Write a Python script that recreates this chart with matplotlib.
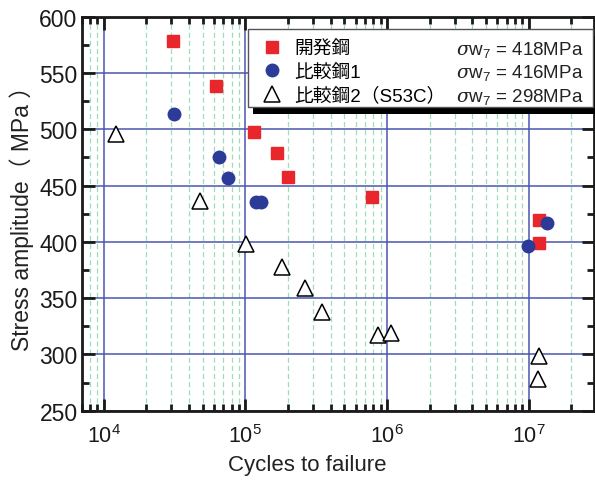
import matplotlib
matplotlib.use('Agg')
import matplotlib.pyplot as plt
from matplotlib.patches import Rectangle
from matplotlib.ticker import LogLocator, MultipleLocator, NullFormatter

plt.rcParams['font.family'] = ['Liberation Sans', 'Noto Sans CJK JP', 'DejaVu Sans']
plt.rcParams['mathtext.fontset'] = 'custom'
plt.rcParams['mathtext.rm'] = 'Liberation Sans'
plt.rcParams['mathtext.it'] = 'DejaVu Serif:italic'

# data
dev_cycles = [3.1e4, 6.2e4, 1.15e5, 1.67e5, 2.0e5, 7.8e5, 1.18e7, 1.18e7]
dev_stress = [578, 538, 498, 479, 458, 440, 419, 399]

cmp1_cycles = [3.15e4, 6.5e4, 7.6e4, 1.19e5, 1.29e5, 9.8e6, 1.34e7]
cmp1_stress = [514, 475, 457, 435.5, 435.5, 396, 417]

cmp2_cycles = [1.23e4, 4.77e4, 1.01e5, 1.8e5, 2.65e5, 3.46e5, 8.7e5, 1.06e6, 1.19e7, 1.16e7]
cmp2_stress = [496, 436.5, 398, 378, 358.6, 337.3, 317.4, 318.6, 299, 278.4]

labels = ['開発鋼', '比較鋼1', '比較鋼2（S53C）']
limits = ['418MPa', '416MPa', '298MPa']

red = '#e8262c'
blue = '#2b3b97'
W, H = 595, 481

fig = plt.figure(figsize=(W / 100, H / 100), dpi=100)
ax = fig.add_axes([0.1373, 0.1441, 0.9988 - 0.1373, 0.9632 - 0.1441])

ax.set_xscale('log')
ax.set_xlim(7e3, 2.9e7)
ax.set_ylim(250, 600)

# grid
ax.xaxis.set_major_locator(LogLocator(base=10, numticks=10))
ax.xaxis.set_minor_locator(LogLocator(base=10, subs=range(2, 10), numticks=20))
ax.xaxis.set_minor_formatter(NullFormatter())
ax.yaxis.set_major_locator(MultipleLocator(50))
ax.yaxis.set_minor_locator(MultipleLocator(25))
ax.grid(which='major', axis='both', color='#4a55b0', lw=1.1, ls='-')
ax.grid(which='minor', axis='x', color='#9fdcb8', lw=0.9, ls=(0, (4, 2.5)))
ax.set_axisbelow(True)

h1, = ax.plot(dev_cycles, dev_stress, 's', color=red, ms=8.2, mec=red, zorder=3)
h2, = ax.plot(cmp1_cycles, cmp1_stress, 'o', color=blue, ms=9, mec=blue, zorder=3)
h3, = ax.plot(cmp2_cycles, cmp2_stress, '^', mfc='white', mec='black', ms=12, mew=1.1, zorder=3)

ax.tick_params(which='both', direction='in', top=True, right=True, width=2, colors='#1a1a1a')
ax.tick_params(which='major', length=9, labelsize=16.5)
ax.tick_params(which='minor', length=5)
ax.tick_params(axis='x', which='major', pad=10, labelsize=15.5)
ax.tick_params(axis='y', which='major', pad=3)
for s in ax.spines.values():
    s.set_linewidth(2)
    s.set_color('#1a1a1a')

ax.set_xlabel('Cycles to failure', fontsize=16, color='#222222')
ax.set_ylabel('Stress amplitude（ MPa ）', fontsize=16.5, color='#222222')
ax.xaxis.set_label_coords((307 - 81.7) / 512.6, (411.7 - 455) / 394)
ax.yaxis.set_label_coords((34 - 81.7) / 512.6, (411.7 - 213) / 394)

# legend frame with black drop shadow
bx0, by0, bx1, by1 = 248.3, 30, 592.7, 108
fig.patches.append(Rectangle((bx0 + 5, H - by1 - 7), bx1 - bx0, by1 - by0,
                             transform=None, facecolor='black', edgecolor='none',
                             zorder=3, figure=fig))
fig.patches.append(Rectangle((bx0, H - by1), bx1 - bx0, by1 - by0,
                             transform=None, facecolor='white', edgecolor='#555555',
                             lw=1, zorder=4, figure=fig))

leg = fig.legend([h1, h2, h3], labels, loc='upper left', bbox_to_anchor=(262.7 / W, 1 - 40 / H),
                 borderaxespad=0, borderpad=0, fontsize=13.5, frameon=False,
                 handlelength=1.0, handletextpad=0.7, labelspacing=0.32)
leg.set_zorder(6)

# nudge so the first row sits where it does on the chart
fig.canvas.draw()
bb = leg.get_texts()[0].get_window_extent()
dy = (H - 50) - (bb.y0 + bb.y1) / 2
leg.set_bbox_to_anchor((262.7 / W, 1 - 40 / H + dy / H), transform=fig.transFigure)

fig.canvas.draw()
for t, lim in zip(leg.get_texts(), limits):
    bb = t.get_window_extent()
    yc = (bb.y0 + bb.y1) / 2 / H
    fig.text(583.3 / W, yc, r'$\sigma$w$_7$ = ' + lim, ha='right', va='center',
             fontsize=13.5, color='#222222', zorder=7)

fig.savefig('out.png', dpi=100)
